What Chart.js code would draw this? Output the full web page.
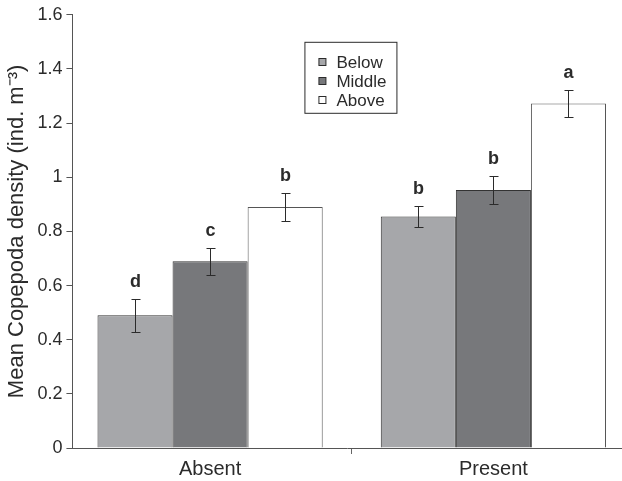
<!DOCTYPE html>
<html>
<head>
<meta charset="utf-8">
<script src="https://cdn.jsdelivr.net/npm/chart.js@4"></script>
<style>
  html, body { margin: 0; padding: 0; background: #fff; }
  #wrap { width: 622px; height: 481px; }
</style>
</head>
<body>
<div id="wrap"><canvas id="myChart"></canvas></div>
<script>
const categories = ['Absent', 'Present'];
const series = ['Below', 'Middle', 'Above'];
const below = [0.49, 0.855];
const middle = [0.69, 0.953];
const above = [0.89, 1.272];
const belowErr = [0.06, 0.04];
const middleErr = [0.05, 0.05];
const aboveErr = [0.05, 0.05];
const belowLetters = ['d', 'b'];
const middleLetters = ['c', 'b'];
const aboveLetters = ['b', 'a'];
const yTicks = [0, 0.2, 0.4, 0.6, 0.8, 1, 1.2, 1.4, 1.6];

const FONT = '"Liberation Sans", Arial, Helvetica, sans-serif';
const ink = '#2b2b2b';

function points(vals) {
  return vals.map((v, i) => ({ x: i, y: v }));
}

// error bars + significance letters
const errorBars = {
  id: 'errorBars',
  afterDatasetsDraw(chart) {
    const c = chart.ctx;
    const y = chart.scales.y;
    chart.data.datasets.forEach((ds, di) => {
      const meta = chart.getDatasetMeta(di);
      meta.data.forEach((bar, i) => {
        const v = ds.data[i].y;
        const e = ds.err[i];
        const top = Math.round(y.getPixelForValue(v + e)) + 0.5;
        const bot = Math.round(y.getPixelForValue(v - e)) + 0.5;
        const x = Math.round(bar.x) + 0.5;
        c.save();
        c.strokeStyle = ink;
        c.lineWidth = 1;
        c.beginPath();
        c.moveTo(x, top); c.lineTo(x, bot);
        c.moveTo(x - 4, top); c.lineTo(x + 5, top);
        c.moveTo(x - 4, bot); c.lineTo(x + 5, bot);
        c.stroke();
        c.fillStyle = ink;
        c.font = 'bold 18px ' + FONT;
        c.textAlign = 'center';
        c.textBaseline = 'alphabetic';
        c.fillText(ds.letters[i], x, top - 13);
        c.restore();
      });
    });
  }
};

// boxed legend inside the plot
const boxLegend = {
  id: 'boxLegend',
  afterDraw(chart) {
    const c = chart.ctx;
    const a = chart.chartArea;
    const bx = a.left + 232, by = a.top + 27, bw = 92, bh = 71;
    c.save();
    c.strokeStyle = ink;
    c.lineWidth = 1;
    c.strokeRect(bx + 0.5, by + 0.5, bw, bh);
    c.font = '17px ' + FONT;
    c.textBaseline = 'middle';
    c.textAlign = 'left';
    chart.data.datasets.forEach((ds, i) => {
      const cy = Math.round(by + 20 + i * 19);
      c.fillStyle = ds.backgroundColor;
      c.fillRect(bx + 14.5, cy - 3.5, 7, 7);
      c.strokeStyle = ink;
      c.strokeRect(bx + 14.5, cy - 3.5, 7, 7);
      c.fillStyle = ink;
      c.fillText(ds.label, bx + 32, cy + 1);
    });
    c.restore();
  }
};

new Chart(document.getElementById('myChart'), {
  type: 'bar',
  data: {
    datasets: [
      { label: series[0], data: points(below), err: belowErr, letters: belowLetters,
        backgroundColor: '#a6a7aa', borderColor: '#333', borderWidth: 1 },
      { label: series[1], data: points(middle), err: middleErr, letters: middleLetters,
        backgroundColor: '#77787b', borderColor: '#333', borderWidth: 1 },
      { label: series[2], data: points(above), err: aboveErr, letters: aboveLetters,
        backgroundColor: '#ffffff', borderColor: '#555', borderWidth: 1 }
    ]
  },
  options: {
    responsive: true,
    maintainAspectRatio: false,
    animation: false,
    layout: { padding: { top: 9, right: 0, left: 4, bottom: 0 } },
    datasets: { bar: { categoryPercentage: 0.795, barPercentage: 1 } },
    plugins: {
      legend: { display: false },
      tooltip: { enabled: false }
    },
    scales: {
      x: {
        type: 'linear',
        min: -0.486,
        max: 1.454,
        offset: false,
        afterBuildTicks(scale) {
          scale.ticks = [{ value: 0 }, { value: 1 }];
        },
        afterFit(scale) {
          scale.height = 33;
        },
        border: { display: true, color: '#555', width: 1 },
        grid: {
          offset: true,
          drawOnChartArea: false,
          tickLength: 6,
          tickColor: '#666'
        },
        ticks: {
          color: ink,
          font: { family: FONT, size: 20 },
          padding: 3,
          maxRotation: 0,
          autoSkip: false,
          callback: v => v === 0 ? categories[0] : v === 1 ? categories[1] : ''
        }
      },
      y: {
        min: 0,
        max: 1.6,
        afterBuildTicks(scale) {
          scale.ticks = yTicks.map(v => ({ value: v }));
        },
        border: { display: true, color: '#555', width: 1 },
        grid: { drawOnChartArea: false, tickLength: 6, tickColor: '#555' },
        ticks: {
          color: ink,
          font: { family: FONT, size: 18 },
          padding: 4,
          callback: v => String(v)
        },
        title: {
          display: true,
          text: 'Mean Copepoda density (ind. m⁻³)',
          color: ink,
          font: { family: FONT, size: 22 },
          padding: { top: 0, bottom: 3 }
        }
      }
    }
  },
  plugins: [errorBars, boxLegend]
});
</script>
</body>
</html>
